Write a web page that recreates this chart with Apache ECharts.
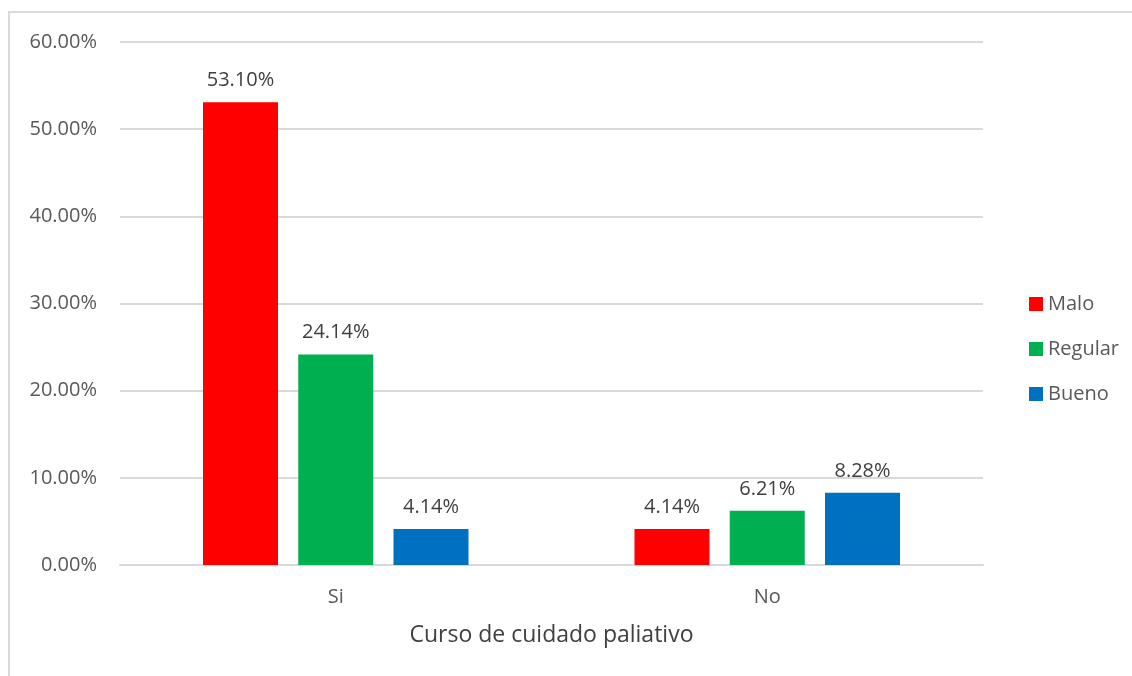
<!DOCTYPE html>
<html>
<head>
<meta charset="utf-8">
<script src="https://cdn.jsdelivr.net/npm/echarts@6/dist/echarts.min.js"></script>
<style>
  html, body { margin: 0; padding: 0; background: #fff; }
  #chart { width: 1132px; height: 676px; }
</style>
</head>
<body>
<div id="chart"></div>
<script>
// categories and values (percent)
var categories = ["Si", "No"];
var malo = [53.10, 4.14];
var regular = [24.14, 6.21];
var bueno = [4.14, 8.28];
var seriesNames = ["Malo", "Regular", "Bueno"];
var colors = ["#FF0000", "#00B050", "#0070C0"];

var font = "Open Sans, Liberation Sans, sans-serif";

function mkSeries(name, data, color) {
  return {
    name: name,
    type: "bar",
    data: data,
    barWidth: 75,
    barGap: "27%",
    itemStyle: { color: color },
    label: {
      show: true,
      position: "top",
      distance: 12,
      color: "#404040",
      fontSize: 20,
      fontFamily: font,
      formatter: function (p) { return p.value.toFixed(2) + "%"; }
    }
  };
}

var option = {
  animation: false,
  backgroundColor: "#fff",
  textStyle: { fontFamily: font },
  graphic: [{
    type: "rect",
    shape: { x: 9, y: 12, width: 1200, height: 800 },
    style: { fill: "none", stroke: "#d9d9d9", lineWidth: 2 },
    silent: true
  }],
  grid: { left: 120, right: 149, top: 42, bottom: 111 },
  legend: {
    orient: "vertical",
    left: 1024,
    top: 289,
    itemWidth: 14,
    itemHeight: 14,
    itemGap: 25,
    icon: "rect",
    textStyle: { color: "#595959", fontSize: 20, fontFamily: font },
    data: seriesNames
  },
  xAxis: {
    type: "category",
    data: categories,
    axisTick: { show: false },
    axisLine: { lineStyle: { color: "#d9d9d9", width: 2 } },
    axisLabel: { color: "#595959", fontSize: 20, margin: 22, fontFamily: font },
    name: "Curso de cuidado paliativo",
    nameLocation: "middle",
    nameGap: 59,
    nameTextStyle: { color: "#404040", fontSize: 23, fontFamily: font }
  },
  yAxis: {
    type: "value",
    min: 0,
    max: 60,
    interval: 10,
    axisLine: { show: false },
    axisTick: { show: false },
    splitLine: { lineStyle: { color: "#d9d9d9", width: 2 } },
    axisLabel: {
      color: "#595959",
      fontSize: 20,
      margin: 23,
      fontFamily: font,
      formatter: function (v) { return v.toFixed(2) + "%"; }
    }
  },
  series: [
    mkSeries(seriesNames[0], malo, colors[0]),
    mkSeries(seriesNames[1], regular, colors[1]),
    mkSeries(seriesNames[2], bueno, colors[2])
  ]
};

var chart = echarts.init(document.getElementById("chart"));
chart.setOption(option);
</script>
</body>
</html>
